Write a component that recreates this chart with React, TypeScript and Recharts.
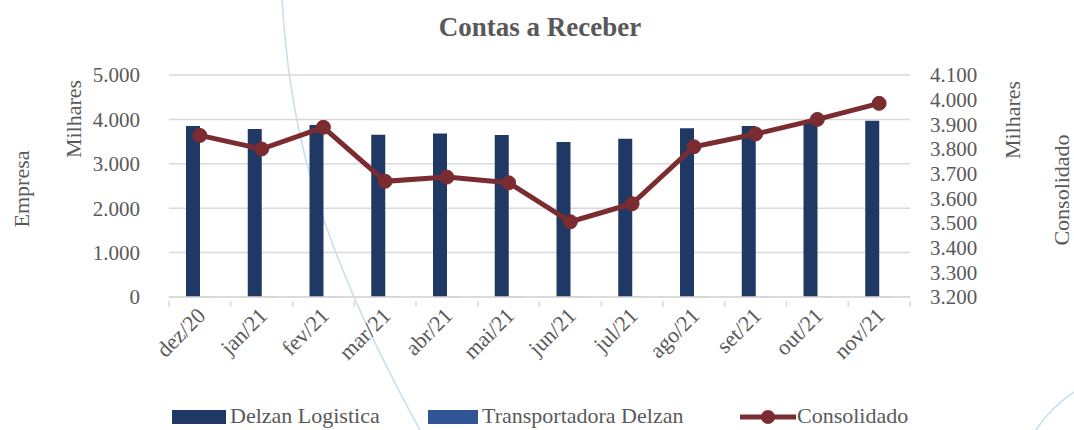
import React from "react";
import { Bar, CartesianGrid, ComposedChart, Legend, Line, XAxis, YAxis } from "recharts";

const months = ["dez/20", "jan/21", "fev/21", "mar/21", "abr/21", "mai/21", "jun/21", "jul/21", "ago/21", "set/21", "out/21", "nov/21"];
const delzanLogistica = [3850, 3785, 3875, 3655, 3680, 3650, 3490, 3565, 3800, 3850, 3930, 3970];
const transportadoraDelzan = [5, 5, 5, 5, 5, 5, 5, 5, 5, 5, 5, 5];
const consolidado = [3855, 3800, 3888, 3669, 3686, 3663, 3505, 3578, 3809, 3861, 3920, 3985];
const leftTicks = [0, 1000, 2000, 3000, 4000, 5000];
const rightTicks = [3200, 3300, 3400, 3500, 3600, 3700, 3800, 3900, 4000, 4100];

const data = months.map((m, i) => ({
  month: m,
  delzan: delzanLogistica[i],
  transp: transportadoraDelzan[i],
  consolidado: consolidado[i],
}));

const FONT = "'Liberation Serif', 'DejaVu Serif', serif";
const GRAY = "#595959";
const NAVY = "#1f3864";
const BLUE = "#2f5597";
const RED = "#7b2c30";
const GRID = "#d9d9d9";
const FS = 21;

const fmt = (v: number) => String(v).replace(/\B(?=(\d{3})+(?!\d))/g, ".");

const BAND = 741 / 12;

const MonthTick = (props: any) => {
  const { x, y, payload, index } = props;
  const last = index === months.length - 1;
  return (
    <g>
      <line x1={x - BAND / 2} y1={y - 4} x2={x - BAND / 2} y2={y + 2} stroke={GRID} strokeWidth={1.5} />
      {last && <line x1={x + BAND / 2} y1={y - 4} x2={x + BAND / 2} y2={y + 2} stroke={GRID} strokeWidth={1.5} />}
      <text
        x={x + 7}
        y={y + 12}
        transform={`rotate(-45, ${x + 7}, ${y + 12})`}
        textAnchor="end"
        fill={GRAY}
        fontSize={FS + 1}
        fontFamily={FONT}
      >
        {payload.value}
      </text>
    </g>
  );
};

const legendText = {
  position: "absolute" as const,
  top: 0,
  lineHeight: "22px",
  whiteSpace: "nowrap" as const,
  fontFamily: FONT,
  fontSize: 22,
  color: GRAY,
};

const renderLegend = () => (
  <div style={{ position: "relative", height: 22 }}>
    <div style={{ position: "absolute", left: 172, top: 5, width: 54, height: 14, background: NAVY }} />
    <span style={{ ...legendText, left: 230 }}>Delzan Logistica</span>
    <div style={{ position: "absolute", left: 428, top: 5, width: 50, height: 14, background: BLUE }} />
    <span style={{ ...legendText, left: 482 }}>Transportadora Delzan</span>
    <svg style={{ position: "absolute", left: 740, top: 2 }} width={56} height={20}>
      <line x1={0} y1={10} x2={56} y2={10} stroke={RED} strokeWidth={5} />
      <circle cx={28} cy={10} r={7} fill={RED} />
    </svg>
    <span style={{ ...legendText, left: 797 }}>Consolidado</span>
  </div>
);

export default function App() {
  return (
    <div style={{ position: "absolute", left: 0, top: 0, width: 1074, height: 430, background: "#fff", overflow: "hidden" }}>
      <svg style={{ position: "absolute", left: 0, top: 0 }} width={1074} height={430}>
        <path d="M 282 0 C 290 120, 310 230, 420 430" stroke="#c5dfec" strokeWidth={1.5} fill="none" />
        <path d="M 1074 392 Q 1050 408, 1036 430" stroke="#c5dfec" strokeWidth={1.5} fill="none" />
      </svg>
      <ComposedChart
        width={1074}
        height={430}
        data={data}
        margin={{ top: 75, right: 0, bottom: 0, left: 0 }}
        barGap={0}
        style={{ fontFamily: FONT }}
      >
        <CartesianGrid yAxisId="left" vertical={false} stroke={GRID} strokeWidth={1.5} />
        <XAxis
          dataKey="month"
          height={111}
          axisLine={{ stroke: GRID, strokeWidth: 1.5 }}
          tickLine={false}
          tick={<MonthTick />}
          interval={0}
        />
        <YAxis
          yAxisId="left"
          width={169}
          domain={[0, 5000]}
          ticks={leftTicks}
          interval={0}
          tickFormatter={fmt}
          axisLine={false}
          tickLine={false}
          tickSize={0}
          tickMargin={29}
          tick={{ fill: GRAY, fontSize: FS, fontFamily: FONT }}
        />
        <YAxis
          yAxisId="right"
          orientation="right"
          width={164}
          domain={[3200, 4100]}
          ticks={rightTicks}
          interval={0}
          tickFormatter={fmt}
          axisLine={false}
          tickLine={false}
          tickSize={0}
          tickMargin={20}
          tick={{ fill: GRAY, fontSize: FS, fontFamily: FONT }}
        />
        <Legend verticalAlign="bottom" align="left" content={renderLegend} wrapperStyle={{ left: 0, width: 1074, bottom: 3 }} />
        <Bar yAxisId="left" dataKey="delzan" name="Delzan Logistica" fill={NAVY} barSize={14} isAnimationActive={false} />
        <Bar yAxisId="left" dataKey="transp" name="Transportadora Delzan" fill={BLUE} barSize={14} isAnimationActive={false} />
        <Line
          yAxisId="right"
          dataKey="consolidado"
          name="Consolidado"
          stroke={RED}
          strokeWidth={5}
          dot={{ r: 7, fill: RED, stroke: RED, strokeWidth: 1 }}
          isAnimationActive={false}
        />
      </ComposedChart>
      <svg style={{ position: "absolute", left: 0, top: 0, pointerEvents: "none" }} width={1074} height={430}>
        <text x={540} y={36} textAnchor="middle" fill={GRAY} fontSize={27} fontWeight="bold" fontFamily={FONT}>
          Contas a Receber
        </text>
        <text x={0} y={0} transform="translate(29, 189) rotate(-90)" textAnchor="middle" fill={GRAY} fontSize={FS + 1} fontFamily={FONT}>
          Empresa
        </text>
        <text x={0} y={0} transform="translate(81, 119) rotate(-90)" textAnchor="middle" fill={GRAY} fontSize={FS + 1} fontFamily={FONT}>
          Milhares
        </text>
        <text x={0} y={0} transform="translate(1020, 120) rotate(-90)" textAnchor="middle" fill={GRAY} fontSize={FS + 1} fontFamily={FONT}>
          Milhares
        </text>
        <text x={0} y={0} transform="translate(1069, 190) rotate(-90)" textAnchor="middle" fill={GRAY} fontSize={FS + 1} fontFamily={FONT}>
          Consolidado
        </text>
      </svg>
    </div>
  );
}
